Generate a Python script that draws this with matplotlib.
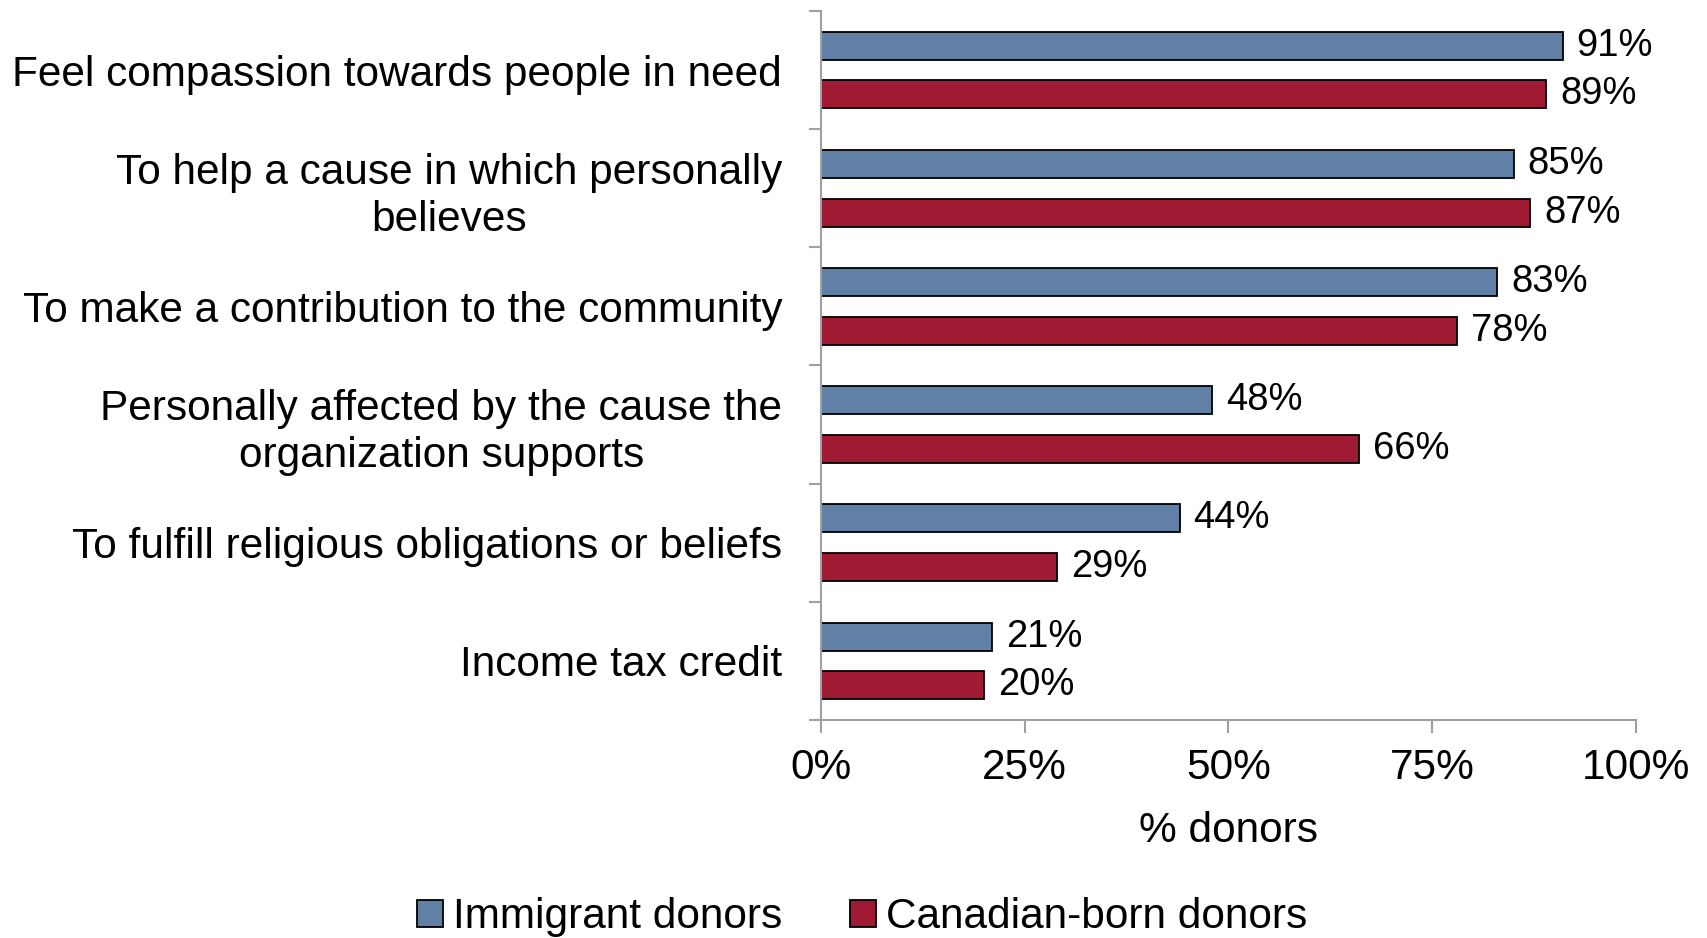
import matplotlib.pyplot as plt
import numpy as np

plt.rcParams['font.family'] = ['Liberation Sans', 'DejaVu Sans']

reasons = ['Feel compassion towards people in need',
           'To help a cause in which personally\nbelieves',
           'To make a contribution to the community',
           'Personally affected by the cause the\norganization supports',
           'To fulfill religious obligations or beliefs',
           'Income tax credit']
immigrant = [91, 85, 83, 48, 44, 21]
canadian = [89, 87, 78, 66, 29, 20]
xticks = [0, 25, 50, 75, 100]

blue = '#6080A6'
red = '#A01A34'
gray = '#A0A0A0'
fs = 30.5

fig = plt.figure(figsize=(17.08, 9.38), dpi=100)
ax = fig.add_axes([0.4807, 0.2324, 0.4771, 0.7559])

y = np.arange(len(reasons))
off = 0.206
h = 0.237
b1 = ax.barh(y - off, immigrant, height=h, color=blue, edgecolor='black',
             linewidth=1.3, label='Immigrant donors')
b2 = ax.barh(y + off, canadian, height=h, color=red, edgecolor='black',
             linewidth=1.3, label='Canadian-born donors')
ax.bar_label(b1, labels=[f'{v}%' for v in immigrant], padding=10, fontsize=27.5)
ax.bar_label(b2, labels=[f'{v}%' for v in canadian], padding=10, fontsize=27.5)

ax.set_xlim(0, 100)
ax.set_ylim(len(reasons) - 0.5, -0.5)

ax.set_yticks(y)
ax.set_yticklabels(reasons, fontsize=fs, multialignment='center', linespacing=1.22)
ax.set_yticks(np.arange(len(reasons) + 1) - 0.5, minor=True)
ax.tick_params(axis='y', which='major', length=0, pad=28)
ax.tick_params(axis='y', which='minor', length=9, width=1.5, color=gray, direction='out')

ax.set_xticks(xticks)
ax.set_xticklabels([f'{t}%' for t in xticks], fontsize=fs)
ax.tick_params(axis='x', length=9, width=1.5, color=gray, direction='out', pad=11)
ax.set_xlabel('% donors', fontsize=fs, labelpad=17)

for s in ['top', 'right']:
    ax.spines[s].set_visible(False)
for s in ['left', 'bottom']:
    ax.spines[s].set_color(gray)
    ax.spines[s].set_linewidth(1.5)

fig.legend(loc='center', bbox_to_anchor=(0.505, 0.022), ncol=2, frameon=False,
           fontsize=fs, handlelength=0.6, handleheight=0.6, handletextpad=0.25,
           columnspacing=1.6)

fig.savefig('out.png', dpi=100)
